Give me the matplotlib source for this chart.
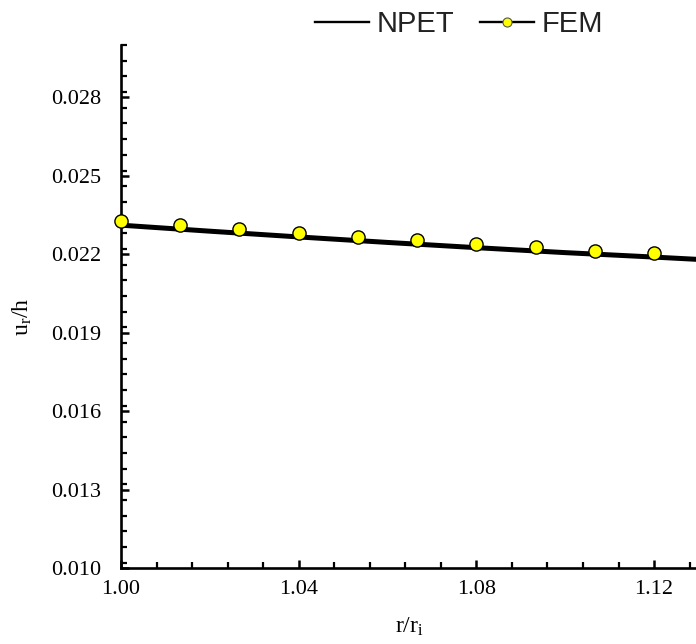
import matplotlib
matplotlib.use("Agg")
import matplotlib.pyplot as plt
from matplotlib.lines import Line2D
from matplotlib.ticker import MultipleLocator, FormatStrFormatter

# NPET analytical curve
npet_x = [1.00, 1.02, 1.04, 1.06, 1.08, 1.10, 1.12, 1.14]
npet_y = [0.02311, 0.02288, 0.02266, 0.02245, 0.02225, 0.02206, 0.02189, 0.02171]

# FEM results
fem_x = [1.0, 1.01333, 1.02667, 1.04, 1.05333, 1.06667, 1.08, 1.09333, 1.10667, 1.12]
fem_y = [0.02327, 0.02311, 0.02296, 0.02281, 0.02266, 0.02254, 0.02239, 0.02227, 0.02214, 0.02203]

x_ticks = [1.00, 1.04, 1.08, 1.12]
y_ticks = [0.010, 0.013, 0.016, 0.019, 0.022, 0.025, 0.028]

plt.rcParams["font.family"] = "Liberation Serif"
plt.rcParams["mathtext.fontset"] = "custom"
plt.rcParams["mathtext.rm"] = "Liberation Serif"
plt.rcParams["mathtext.it"] = "Liberation Serif:italic"

W, H = 696, 644
fig = plt.figure(figsize=(W / 100, H / 100), dpi=100)
ax = fig.add_axes([121 / W, (H - 568) / H, 577.5 / W, (568 - 45) / H])

ax.plot(npet_x, npet_y, color="black", linewidth=3.6, zorder=2)
ax.plot(fem_x, fem_y, linestyle="none", marker="o", markersize=9.5,
        markerfacecolor="#ffff00", markeredgecolor="black", markeredgewidth=1.0,
        zorder=3, clip_on=False)

ax.set_xlim(1.0, 1.13)
ax.set_ylim(0.010, 0.030)
ax.set_xticks(x_ticks)
ax.set_yticks(y_ticks)
ax.xaxis.set_minor_locator(MultipleLocator(0.008))
ax.yaxis.set_minor_locator(MultipleLocator(0.0006))
ax.xaxis.set_major_formatter(FormatStrFormatter("%.2f"))
ax.yaxis.set_major_formatter(FormatStrFormatter("%.3f"))

for side in ("top", "right"):
    ax.spines[side].set_visible(False)
for side in ("left", "bottom"):
    ax.spines[side].set_linewidth(1.9)

ax.tick_params(which="major", direction="in", length=6, width=1.8, labelsize=16)
ax.tick_params(axis="x", which="major", pad=9)
ax.tick_params(axis="y", which="major", pad=14)
ax.tick_params(which="minor", direction="in", length=4, width=1.6)

ax.set_xlabel(r"r/r$_\mathrm{i}$", fontsize=17, labelpad=12)
ax.set_ylabel(r"u$_\mathrm{r}$/h", fontsize=17)
ax.yaxis.set_label_coords(-0.15, 0.48)

handles = [
    Line2D([], [], color="black", linewidth=1.7),
    Line2D([], [], color="black", linewidth=1.7, marker="o", markersize=6.5,
           markerfacecolor="#ffff00", markeredgecolor="#555555", markeredgewidth=0.8),
]
fig.legend(handles, ["NPET", "FEM"], ncol=2, loc="center",
           bbox_to_anchor=(459 / W, 1 - 24 / H), frameon=False,
           prop={"family": "Liberation Sans", "size": 21},
           labelcolor="#222222",
           handlelength=1.85, handletextpad=0.25, columnspacing=0.9)

fig.savefig("out.png", dpi=100)
